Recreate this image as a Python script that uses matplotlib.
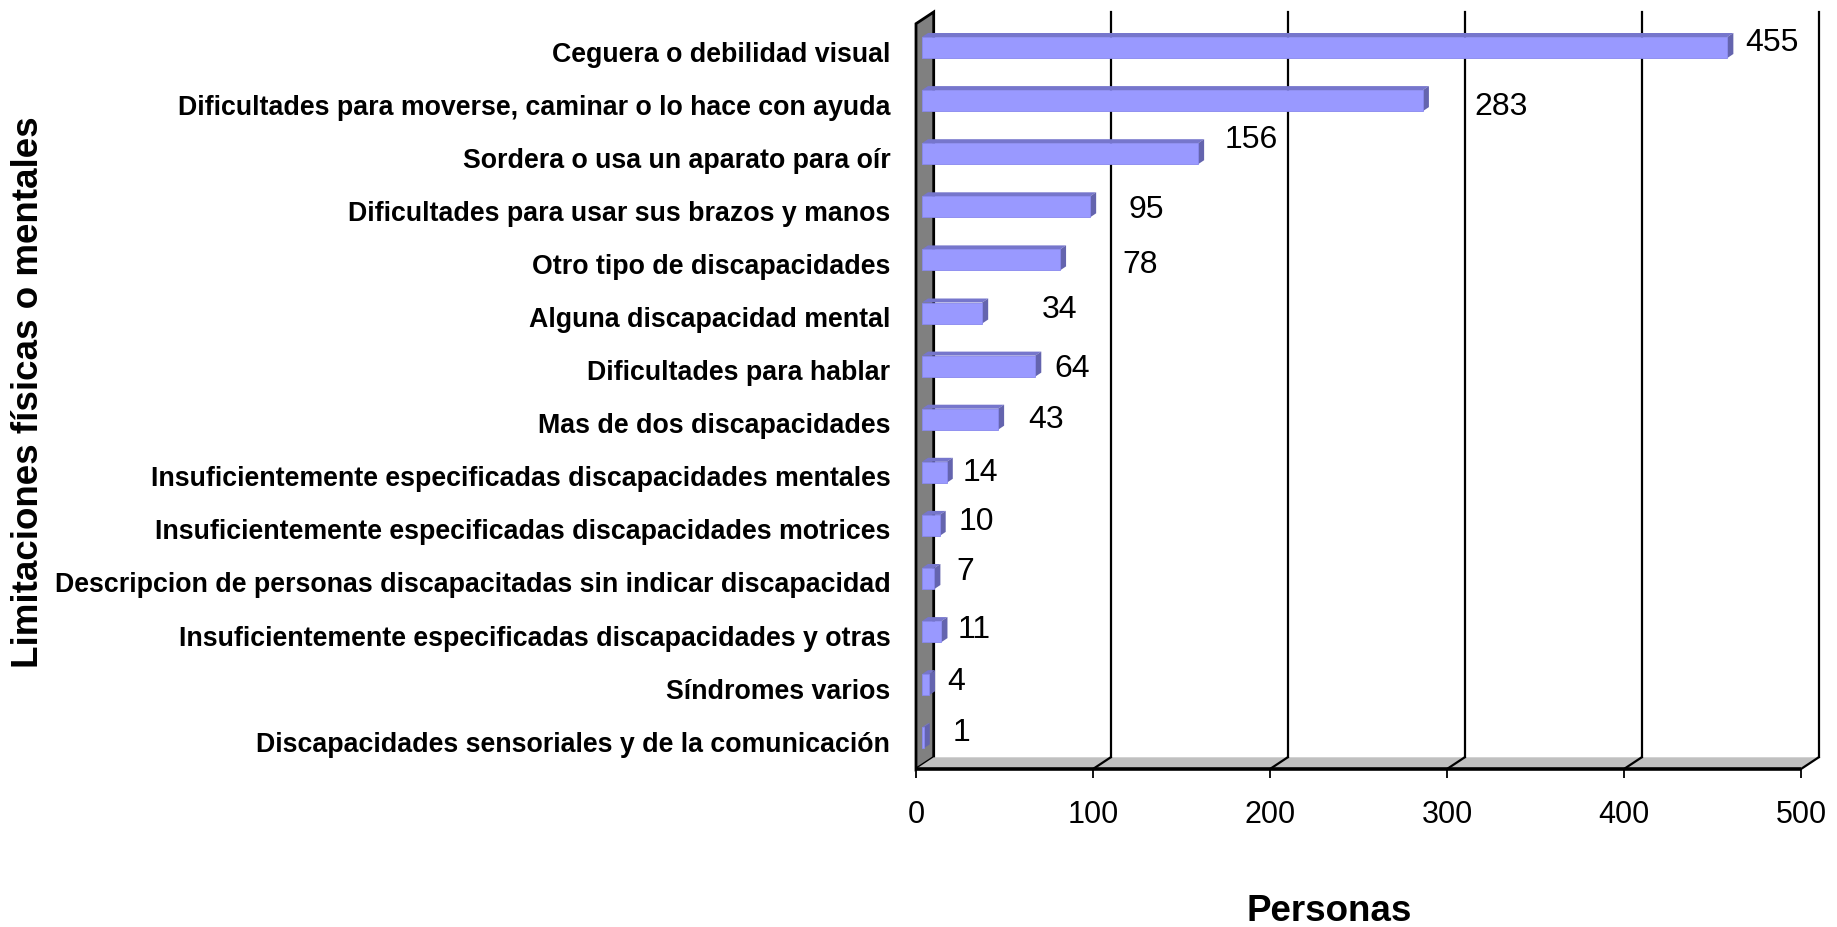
import matplotlib
matplotlib.use("Agg")
import matplotlib.pyplot as plt
from matplotlib.patches import Polygon
import numpy as np

plt.rcParams['font.family'] = ['Liberation Sans', 'DejaVu Sans']

# ---------------- data ----------------
categories = [
    "Ceguera o debilidad visual",
    "Dificultades para moverse, caminar o lo hace con ayuda",
    "Sordera o usa un aparato para oír",
    "Dificultades para usar sus brazos y manos",
    "Otro tipo de discapacidades",
    "Alguna discapacidad mental",
    "Dificultades para hablar",
    "Mas de dos discapacidades",
    "Insuficientemente especificadas discapacidades mentales",
    "Insuficientemente especificadas discapacidades motrices",
    "Descripcion de personas discapacitadas sin indicar discapacidad",
    "Insuficientemente especificadas discapacidades y otras",
    "Síndromes varios",
    "Discapacidades sensoriales y de la comunicación",
]
values = [455, 283, 156, 95, 78, 34, 64, 43, 14, 10, 7, 11, 4, 1]
xticks = [0, 100, 200, 300, 400, 500]
xlabel = "Personas"
ylabel = "Limitaciones físicas o mentales"

# label nudges (pixels, style only): horizontal gap after bar end, vertical shift (down +)
lab_dx = [12, 45, 21, 32, 56, 54, 13, 24, 10, 13, 16, 10, 12, 23]
lab_dy = [-4.5, 6.4, -13.7, 3.2, 5.1, -3, 2.9, 0.8, 0.7, -3.4, -6.5, -1.6, -2.7, -4.8]

# ---------------- colours ----------------
c_front = "#9999FF"
c_top = "#7676CC"
c_side = "#6464AE"
c_wall = "#808080"
c_floor = "#C0C0C0"

# ---------------- layout ----------------
W, H = 1837, 927
fig = plt.figure(figsize=(W / 100, H / 100), dpi=100)
ax_l, ax_r, ax_t, ax_b = 916, 1801, 12, 769
ax = fig.add_axes([ax_l / W, 1 - ax_b / H, (ax_r - ax_l) / W, (ax_b - ax_t) / H])
xmax = xticks[-1]
ppx = (ax_r - ax_l) / xmax
pitch = 53.1
y_top = -(47.5 - ax_t) / pitch
y_bot = y_top + (ax_b - ax_t) / pitch
ax.set_xlim(0, xmax)
ax.set_ylim(y_bot, y_top)
ax.set_facecolor("none")
for s in ax.spines.values():
    s.set_visible(False)

def px2x(p):
    return p / ppx

def px2y(p):
    return p / pitch

Dx, Dy = px2x(17.7), -px2y(11.7)

# left wall
ax.add_patch(Polygon([(0, y_bot), (0, y_top - Dy), (Dx, y_top), (Dx, y_bot + Dy)],
                     closed=True, facecolor=c_wall, edgecolor="black", lw=2,
                     zorder=1, clip_on=False))
# floor
ax.add_patch(Polygon([(0, y_bot), (xmax, y_bot), (xmax + Dx, y_bot + Dy), (Dx, y_bot + Dy)],
                     closed=True, facecolor=c_floor, edgecolor="none",
                     zorder=1, clip_on=False))
# gridlines on back wall + across floor
for t in xticks[1:]:
    ax.plot([t + Dx, t + Dx], [y_top, y_bot + Dy], color="black", lw=1.6, zorder=2, clip_on=False)
    ax.plot([t + Dx, t], [y_bot + Dy, y_bot], color="black", lw=1.6, zorder=2, clip_on=False)
# front floor edge
ax.plot([0, xmax], [y_bot, y_bot], color="black", lw=2.6, zorder=3, clip_on=False, solid_capstyle="butt")

# bars
ypos = np.arange(len(categories))
b0 = px2x(6)
bd = px2x(6)
bdy = px2y(4)
bh = px2y(21)
vals = np.array(values, dtype=float)
ax.barh(ypos, vals, left=b0, height=bh, color=c_front, edgecolor="#8888EE",
        linewidth=0.6, zorder=5)
for y, v in zip(ypos, vals):
    top = y - bh / 2
    bottom = y + bh / 2
    ax.add_patch(Polygon([(b0, top), (b0 + v, top), (b0 + v + bd, top - bdy), (b0 + bd, top - bdy)],
                         closed=True, facecolor=c_top, edgecolor="none", zorder=4, clip_on=False))
    ax.add_patch(Polygon([(b0 + v, top), (b0 + v + bd, top - bdy), (b0 + v + bd, bottom - bdy), (b0 + v, bottom)],
                         closed=True, facecolor=c_side, edgecolor="none", zorder=4, clip_on=False))

# value labels
for y, v, dx, dy in zip(ypos, vals, lab_dx, lab_dy):
    ax.annotate(f"{int(v)}", xy=(b0 + v + bd, y), xytext=(dx, -dy),
                textcoords="offset pixels", ha="left", va="center",
                fontsize=23, color="black", zorder=6, annotation_clip=False)

# axes ticks
ax.set_xticks(xticks)
ax.set_xticklabels([str(t) for t in xticks])
ax.tick_params(axis="x", length=6.5, width=1.3, pad=16, labelsize=22, direction="out")
ax.set_yticks(ypos + px2y(4))
ax.set_yticklabels(categories, fontsize=19.3, fontweight="bold")
ax.tick_params(axis="y", length=0, pad=18.5)

# titles
fig.text(1329 / W, 1 - 921 / H, xlabel, ha="center", va="baseline",
         fontsize=26.5, fontweight="bold")
fig.text(29 / W, 1 - 392 / H, ylabel, ha="center", va="center", rotation=90,
         fontsize=26.5, fontweight="bold")

fig.savefig("out.png", dpi=100)
